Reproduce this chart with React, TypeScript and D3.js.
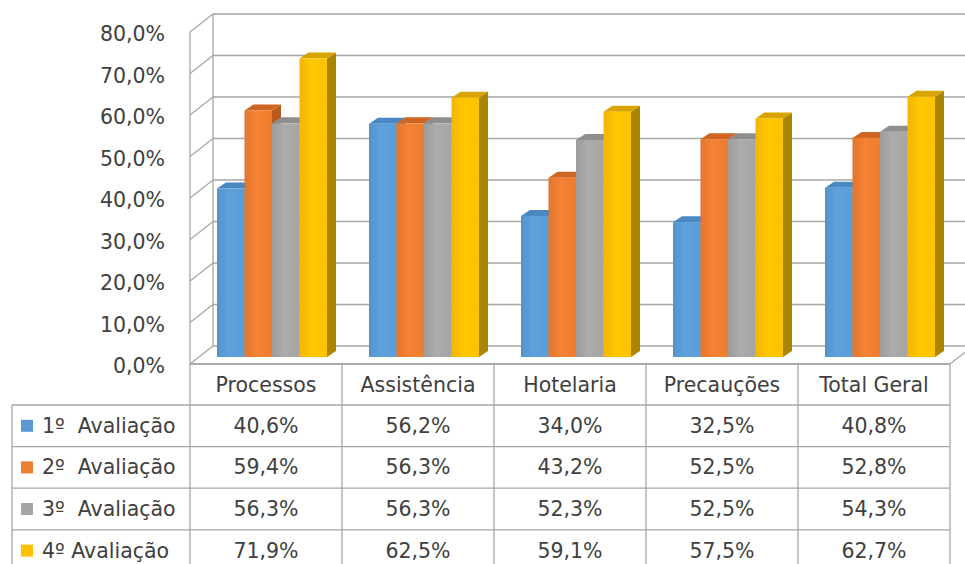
import React from "react";
import * as d3 from "d3";

const categories = ["Processos", "Assistência", "Hotelaria", "Precauções", "Total Geral"];
const seriesNames = ["1º  Avaliação", "2º  Avaliação", "3º  Avaliação", "4º Avaliação"];
const serie1 = [40.6, 56.2, 34.0, 32.5, 40.8];
const serie2 = [59.4, 56.3, 43.2, 52.5, 52.8];
const serie3 = [56.3, 56.3, 52.3, 52.5, 54.3];
const serie4 = [71.9, 62.5, 59.1, 57.5, 62.7];
const seriesValues = [serie1, serie2, serie3, serie4];
const yTicks = [0, 10, 20, 30, 40, 50, 60, 70, 80];

const frontColors = ["#5B9BD5", "#ED7D31", "#A5A5A5", "#FFC000"];
const sideColors = ["#3F77AE", "#B95A1C", "#7E7E7E", "#A98600"];
const topColors = ["#4A88C4", "#CF6522", "#8E8E8E", "#D9A400"];

const locale = d3.formatLocale({ decimal: ",", thousands: ".", grouping: [3], currency: ["", ""] });
const fmt = locale.format(".1f");
const pct = (v: number) => fmt(v) + "%";

export default function App() {
  const W = 965, H = 564;
  const x0 = 190, x1 = 950;
  const yFront0 = 364;
  const depthX = 23, depthY = -18;
  const y = d3.scaleLinear().domain([0, 80]).range([yFront0, yFront0 - 80 * 4.15]);
  const col = d3.scaleBand<string>().domain(categories).range([x0, x1]);
  const group = d3.scaleBand<string>().domain(categories).range([x0, x1]).paddingInner(0.276).paddingOuter(0.138);
  const inner = d3.scaleBand<number>().domain([0, 1, 2, 3]).range([0, group.bandwidth()]);
  const barShiftX = 6, barShiftY = -7;
  const bdx = 9, bdy = -6;

  const font = "DejaVu Sans, sans-serif";
  const textColor = "#404040";
  const gridColor = "#A6A6A6";
  const tableColor = "#A6A6A6";

  const rowH = 41.6;
  const headerTop = yFront0;
  const headerBottom = 405;
  const rowsY = seriesNames.map((_, i) => headerBottom + i * rowH);

  return (
    <svg width={W} height={H} style={{ display: "block", position: "absolute", left: 0, top: 0 }}>
      <rect width={W} height={H} fill="#fff" />
      {/* back wall gridlines + side wall diagonals */}
      {yTicks.map((t) => {
        const yb = y(t) + depthY;
        return (
          <g key={"g" + t}>
            <line x1={x0 + depthX} x2={x1 + depthX + 20} y1={yb} y2={yb} stroke={gridColor} strokeWidth={1.3} />
            <line x1={x0 + depthX} x2={x0} y1={yb} y2={y(t)} stroke={gridColor} strokeWidth={1.3} />
          </g>
        );
      })}
      <line x1={x0 + depthX} x2={x0 + depthX} y1={y(80) + depthY} y2={y(0) + depthY} stroke={gridColor} strokeWidth={1.3} />
      <line x1={x0} x2={x0} y1={y(80)} y2={H} stroke={gridColor} strokeWidth={1.3} />
      {/* floor */}
      <line x1={x0} x2={x1} y1={y(0)} y2={y(0)} stroke={gridColor} strokeWidth={1.3} />
      <line x1={x1} x2={x1 + depthX} y1={y(0)} y2={y(0) + depthY} stroke={gridColor} strokeWidth={1.3} />

      {/* y labels */}
      {yTicks.map((t) => (
        <text key={"yl" + t} x={165} y={y(t) + 3} textAnchor="end" dominantBaseline="middle" fontFamily={font} fontSize={20.5} fill={textColor}>
          {pct(t)}
        </text>
      ))}

      {/* bars */}
      {categories.map((c, ci) => (
        <g key={"bars" + c}>
          {seriesValues.map((vals, si) => {
            const bx = (group(c) as number) + (inner(si) as number) + barShiftX;
            const bw = inner.bandwidth();
            const yt = y(vals[ci]) + barShiftY;
            const yb = y(0) + barShiftY;
            const side = `M${bx + bw},${yt} L${bx + bw + bdx},${yt + bdy} L${bx + bw + bdx},${yb + bdy} L${bx + bw},${yb} Z`;
            const top = `M${bx},${yt} L${bx + bdx},${yt + bdy} L${bx + bw + bdx},${yt + bdy} L${bx + bw},${yt} Z`;
            return (
              <g key={"b" + si}>
                <path d={side} fill={sideColors[si]} />
                <path d={top} fill={topColors[si]} />
                <rect x={bx} y={yt} width={bw} height={yb - yt} fill={`url(#grad${si})`} />
              </g>
            );
          })}
        </g>
      ))}
      <defs>
        {frontColors.map((fc, i) => (
          <linearGradient key={"gr" + i} id={`grad${i}`} x1="0" x2="1" y1="0" y2="0">
            <stop offset="0" stopColor={d3.color(fc)!.darker(0.15).toString()} />
            <stop offset="0.45" stopColor={d3.color(fc)!.brighter(0.12).toString()} />
            <stop offset="1" stopColor={fc} />
          </linearGradient>
        ))}
      </defs>

      {/* table */}
      <line x1={x0} x2={x1} y1={headerTop} y2={headerTop} stroke={tableColor} strokeWidth={1.3} />
      {rowsY.map((ry, i) => (
        <line key={"rl" + i} x1={12} x2={x1} y1={ry} y2={ry} stroke={tableColor} strokeWidth={1.3} />
      ))}
      <line x1={12} x2={12} y1={headerBottom} y2={H} stroke={tableColor} strokeWidth={1.3} />
      {categories.map((c) => (
        <line key={"vl" + c} x1={(col(c) as number) + col.bandwidth()} x2={(col(c) as number) + col.bandwidth()} y1={headerTop} y2={H} stroke={tableColor} strokeWidth={1.3} />
      ))}
      {categories.map((c) => (
        <text key={"h" + c} x={(col(c) as number) + col.bandwidth() / 2} y={(headerTop + headerBottom) / 2 + 1} textAnchor="middle" dominantBaseline="middle" fontFamily={font} fontSize={20.5} fill={textColor}>
          {c}
        </text>
      ))}
      {seriesNames.map((s, si) => (
        <g key={"row" + si}>
          <rect x={21} y={rowsY[si] + rowH / 2 - 6} width={12} height={12} fill={frontColors[si]} />
          <text x={42} y={rowsY[si] + rowH / 2 + 1} dominantBaseline="middle" fontFamily={font} fontSize={20.5} fill={textColor} style={{ whiteSpace: "pre" }}>
            {s}
          </text>
          {categories.map((c, ci) => (
            <text key={"v" + ci} x={(col(c) as number) + col.bandwidth() / 2} y={rowsY[si] + rowH / 2 + 1} textAnchor="middle" dominantBaseline="middle" fontFamily={font} fontSize={20.5} fill={textColor}>
              {pct(seriesValues[si][ci])}
            </text>
          ))}
        </g>
      ))}
    </svg>
  );
}
